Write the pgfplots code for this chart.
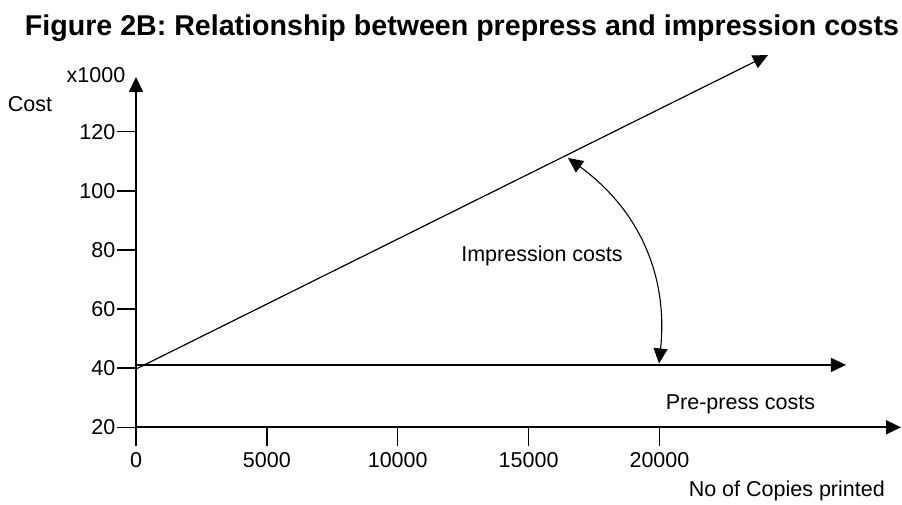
\documentclass[border=0pt]{standalone}
\usepackage{pgfplots}
\pgfplotsset{compat=1.18}
\usepackage{fontspec}
\setmainfont{Liberation Sans}
\usetikzlibrary{arrows.meta}
\begin{document}
\begin{tikzpicture}
\path[use as bounding box] (0pt,0pt) rectangle (902pt,505pt);
\begin{axis}[
  at={(136pt,77.7pt)}, anchor=south west,
  scale only axis, width=765pt, height=350.3pt,
  xmin=0, xmax=29230, ymin=20, ymax=138.5,
  axis lines=left,
  axis line style={line width=1.8pt, -{Triangle[length=15pt,width=14pt]}},
  clip=false,
  xtick={0,5000,10000,15000,20000},
  ytick={20,40,60,80,100,120},
  scaled x ticks=false,
  /pgf/number format/assume math mode=true,
  /pgf/number format/1000 sep={},
  tick label style={font=\fontsize{21.5}{25}\selectfont, inner sep=1.5pt},
  xticklabel style={yshift=-4pt},
  tick align=outside,
  major tick length=19pt,
  tick style={black, line width=1.4pt},
]
\addplot[black, line width=1.2pt, -{Triangle[length=15pt,width=14pt]}] coordinates {(0,41.1) (27128,41.1)};
\addplot[black, line width=1.2pt, -{Triangle[length=15pt,width=14pt]}] coordinates {(0,39.7) (24148,145.9)};
\draw[black, line width=1.1pt, {Triangle[length=15pt,width=14pt]}-{Triangle[length=15pt,width=14pt]}] (axis cs:16506,111.1) to[bend left=30] (axis cs:19983,41.6);
\end{axis}
\node[font=\bfseries\fontsize{28.6}{32}\selectfont, anchor=base] at (462pt,469pt) {Figure 2B: Relationship between prepress and impression costs};
\node[font=\fontsize{21.5}{25}\selectfont, anchor=base] at (542pt,243.3pt) {Impression costs};
\node[font=\fontsize{21.5}{25}\selectfont, anchor=base] at (740.5pt,95.7pt) {Pre-press costs};
\node[font=\fontsize{21.5}{25}\selectfont, anchor=base east, inner sep=0pt] at (885pt,8pt) {No of Copies printed};
\node[font=\fontsize{21.5}{25}\selectfont, anchor=base] at (96pt,422.3pt) {x1000};
\node[font=\fontsize{21.5}{25}\selectfont, anchor=base] at (30pt,393pt) {Cost};
\end{tikzpicture}
\end{document}
